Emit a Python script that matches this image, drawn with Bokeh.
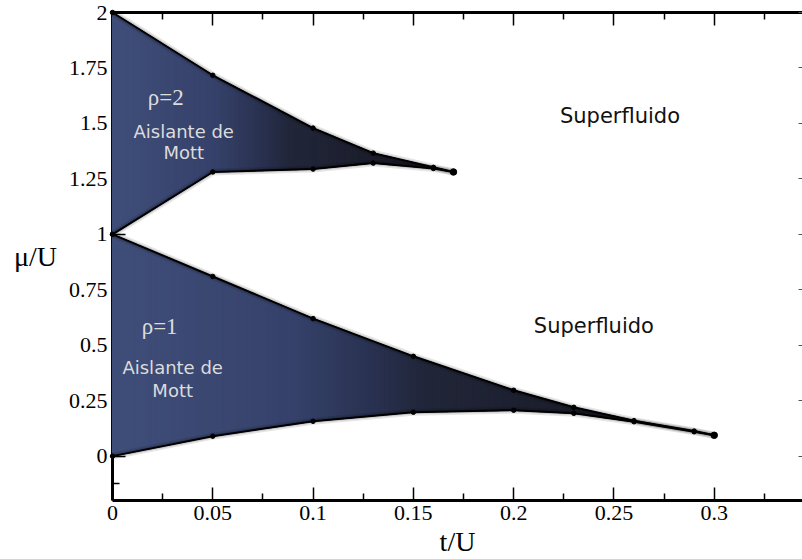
import numpy as np
from bokeh.plotting import figure
from bokeh.models import LinearAxis, FixedTicker, Range1d, Label, ColumnDataSource, CustomLabelingPolicy
from bokeh.embed import file_html
from bokeh.resources import INLINE

# ---------------- data ----------------
# Mott lobe rho = 1
t1 = [0.0, 0.05, 0.10, 0.15, 0.20, 0.23, 0.26, 0.29, 0.30]
mu1_upper = [1.0, 0.81, 0.62, 0.45, 0.297, 0.220, 0.160, 0.113, 0.094]
mu1_lower = [0.0, 0.09, 0.157, 0.198, 0.207, 0.193, 0.155, 0.110, 0.094]
# Mott lobe rho = 2
t2 = [0.0, 0.05, 0.10, 0.13, 0.16, 0.17]
mu2_upper = [2.0, 1.717, 1.479, 1.366, 1.302, 1.281]
mu2_lower = [1.0, 1.281, 1.294, 1.321, 1.297, 1.281]

x_ticks = [0.0, 0.05, 0.10, 0.15, 0.20, 0.25, 0.30]
x_tick_labels = ["0", "0.05", "0.1", "0.15", "0.2", "0.25", "0.3"]
x_minor = [0.025, 0.075, 0.125, 0.175, 0.225, 0.275, 0.325]
y_ticks = [0.0, 0.25, 0.5, 0.75, 1.0, 1.25, 1.5, 1.75, 2.0]
y_tick_labels = ["0", "0.25", "0.5", "0.75", "1", "1.25", "1.5", "1.75", "2"]
y_minor = [-0.125, 0.125, 0.375, 0.625, 0.875, 1.125, 1.375, 1.625, 1.875]

# ---------------- figure ----------------
p = figure(width=802, height=559, x_range=Range1d(0, 0.344), y_range=Range1d(-0.2, 2.0),
           output_backend="svg", toolbar_location=None,
           min_border_left=112, min_border_right=0, min_border_top=12, min_border_bottom=58,
           background_fill_color="white", border_fill_color="white", outline_line_color=None)
p.grid.visible = False

# gradient fill, strip by strip
stops_f = [0.0, 0.30, 0.45, 0.52, 0.75, 1.0]
stops_rgb = np.array([(64, 79, 122), (54, 66, 107), (40, 48, 77), (34, 39, 58), (28, 30, 44), (24, 25, 35)])


def grad_color(f):
    r = np.interp(f, stops_f, stops_rgb[:, 0])
    g = np.interp(f, stops_f, stops_rgb[:, 1])
    b = np.interp(f, stops_f, stops_rgb[:, 2])
    return "#%02x%02x%02x" % (int(r), int(g), int(b))


def strips(t, lo, hi, step=0.001):
    t = np.asarray(t, float)
    edges = np.linspace(0, t[-1], int(round(t[-1] / step)) + 1)
    xs, ys, cs = [], [], []
    for a, b in zip(edges[:-1], edges[1:]):
        ha, hb = np.interp([a, b], t, hi)
        la, lb = np.interp([a, b], t, lo)
        xs.append([a, b, b, a])
        ys.append([ha, hb, lb, la])
        cs.append(grad_color(0.5 * (a + b) / t[-1]))
    return ColumnDataSource(dict(xs=xs, ys=ys, c=cs))


LV = "annotation"  # draw the lobes above the axis ticks, as in the reference
for t, lo, hi in [(t1, mu1_lower, mu1_upper), (t2, mu2_lower, mu2_upper)]:
    p.patches("xs", "ys", source=strips(t, lo, hi), fill_color="c", line_color="c",
              line_width=1.2, level=LV)
    for curve in (hi, lo):
        p.line(t, curve, line_width=7, color="black", alpha=0.10, level=LV)
        p.line(t, curve, line_width=4, color="black", alpha=0.12, level=LV)
        p.line(t, curve, line_width=2, color="black", level=LV)
        p.scatter(t, curve, size=4.5, color="black", level=LV)
    p.scatter(t[-1:], hi[-1:], size=6.5, color="black", level=LV)

# ---------------- axes ----------------
serif = "Liberation Serif"
xt = FixedTicker(ticks=x_ticks, minor_ticks=x_minor)
yt = FixedTicker(ticks=y_ticks, minor_ticks=y_minor)
no_labels = CustomLabelingPolicy(code="for (const i of indices) { indices.unset(i) }\nreturn indices")

xa = p.xaxis[0]
xa.ticker = xt
xa.major_label_overrides = dict(zip(x_ticks, x_tick_labels))
ya = p.yaxis[0]
ya.ticker = yt
ya.major_label_overrides = dict(zip(y_ticks, y_tick_labels))

for ax in (xa, ya):
    ax.axis_line_width = 3
    ax.axis_line_color = "black"
    ax.major_tick_in = 13
    ax.major_tick_out = 0
    ax.minor_tick_in = 7
    ax.minor_tick_out = 0
    ax.major_tick_line_width = 1.5
    ax.minor_tick_line_width = 1.5
    ax.major_label_text_font = serif
    ax.major_label_text_font_size = "22px"
    ax.major_label_text_color = "black"
    ax.major_label_standoff = 5
    ax.axis_label_text_font = serif
    ax.axis_label_text_font_size = "28px"
    ax.axis_label_text_font_style = "normal"
    ax.axis_label_text_color = "black"

xa.axis_label = "t/U"
xa.axis_label_standoff = 3
ya.axis_label = "μ/U"
ya.axis_label_standoff = 9
if "axis_label_orientation" in ya.properties():
    ya.axis_label_orientation = "horizontal"

top = LinearAxis(ticker=xt, axis_line_width=3, axis_line_color="black", major_tick_in=13,
                 major_tick_out=0, minor_tick_in=7, minor_tick_out=0, major_tick_line_width=1.5,
                 minor_tick_line_width=1.5, major_label_policy=no_labels, major_label_standoff=0,
                 major_label_text_font_size="0px")
p.add_layout(top, "above")

right = LinearAxis(ticker=FixedTicker(ticks=y_ticks, minor_ticks=[]), axis_line_color=None,
                   major_tick_in=4, major_tick_out=0, major_tick_line_color="#555555",
                   major_label_policy=no_labels, major_label_standoff=0,
                   major_label_text_font_size="0px")
p.add_layout(right, "right")

# ---------------- texts ----------------
light = "#dcdcdc"
sans = "DejaVu Sans"
labels = [
    ("ρ=2", 0.0265, 1.615, serif, "23px", light),
    ("Aislante de", 0.0355, 1.462, sans, "18px", light),
    ("Mott", 0.0355, 1.367, sans, "18px", light),
    ("ρ=1", 0.0235, 0.585, serif, "23px", light),
    ("Aislante de", 0.030, 0.40, sans, "18px", light),
    ("Mott", 0.030, 0.297, sans, "18px", light),
    ("Superfluido", 0.253, 1.534, sans, "21px", "#111111"),
    ("Superfluido", 0.240, 0.585, sans, "21px", "#111111"),
]
for txt, x, y, font, size, col in labels:
    p.add_layout(Label(x=x, y=y, text=txt, text_font=font, text_font_size=size,
                       text_color=col, text_align="center", text_baseline="alphabetic"))

open("out.html", "w").write(file_html(p, INLINE))
